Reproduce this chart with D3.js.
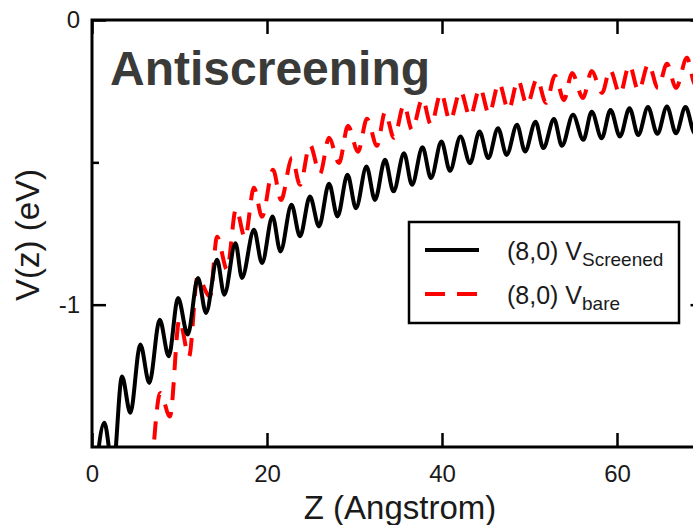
<!DOCTYPE html>
<html>
<head>
<meta charset="utf-8">
<script src="https://cdn.jsdelivr.net/npm/d3@7"></script>
<style>
  html, body { margin: 0; padding: 0; background: #fff; overflow: hidden; }
  text { font-family: "Liberation Sans", Arial, sans-serif; }
</style>
</head>
<body>
<div id="chart"></div>
<script>
// extrema (peaks / troughs) of each curve
const screenedZ = [0.46, 1.41, 2.40, 3.43, 4.38, 5.52, 6.55, 7.74, 8.77, 9.83, 10.94, 12.11, 13.03, 14.29, 15.12, 16.40, 17.14, 18.51, 19.43, 20.63, 21.54, 22.80, 23.77, 24.91, 25.94, 27.09, 28.06, 29.20, 30.17, 31.37, 32.34, 33.49, 34.46, 35.66, 36.57, 37.77, 38.74, 39.94, 40.91, 42.11, 43.20, 44.29, 45.29, 46.40, 47.39, 48.57, 49.49, 50.69, 51.58, 52.80, 53.71, 54.97, 56.15, 57.11, 58.25, 59.26, 60.34, 61.43, 62.43, 63.54, 64.61, 65.71, 66.74, 67.83, 68.90, 69.94];
const screenedV = [-1.58, -1.415, -1.58, -1.252, -1.380, -1.140, -1.275, -1.053, -1.181, -0.977, -1.105, -0.906, -1.029, -0.842, -0.965, -0.784, -0.906, -0.737, -0.854, -0.690, -0.813, -0.649, -0.760, -0.620, -0.725, -0.575, -0.690, -0.544, -0.661, -0.515, -0.632, -0.491, -0.602, -0.468, -0.579, -0.447, -0.555, -0.427, -0.530, -0.409, -0.503, -0.392, -0.485, -0.380, -0.474, -0.368, -0.462, -0.357, -0.450, -0.348, -0.442, -0.333, -0.421, -0.322, -0.415, -0.316, -0.409, -0.310, -0.404, -0.306, -0.400, -0.304, -0.398, -0.306, -0.398, -0.300];

const bareZ = [6.86, 7.81, 8.91, 9.98, 11.09, 12.06, 13.49, 14.29, 15.43, 16.46, 17.49, 18.51, 19.43, 20.69, 21.60, 22.86, 23.77, 24.91, 26.06, 27.09, 28.23, 29.26, 30.40, 31.43, 32.57, 33.49, 34.51, 35.66, 36.57, 37.77, 38.74, 39.89, 40.91, 42.11, 43.20, 44.34, 45.37, 46.51, 47.60, 48.69, 49.71, 50.86, 51.89, 52.91, 53.94, 54.86, 56.11, 57.11, 58.29, 59.20, 60.34, 61.41, 62.46, 63.60, 64.69, 65.71, 66.74, 68.00, 68.91, 70.0];
const bareV = [-1.579, -1.310, -1.393, -1.053, -1.182, -0.902, -0.972, -0.761, -0.877, -0.663, -0.765, -0.589, -0.691, -0.526, -0.632, -0.484, -0.579, -0.439, -0.540, -0.414, -0.502, -0.372, -0.463, -0.347, -0.442, -0.323, -0.414, -0.298, -0.386, -0.277, -0.368, -0.256, -0.354, -0.249, -0.340, -0.239, -0.330, -0.221, -0.316, -0.211, -0.298, -0.207, -0.291, -0.196, -0.281, -0.186, -0.274, -0.179, -0.256, -0.175, -0.260, -0.158, -0.249, -0.154, -0.239, -0.154, -0.239, -0.133, -0.225, -0.13];

const xTicks = [0, 20, 40, 60];
const yTicks = [0, -1];
const yMinorTicks = [-0.5];
const legendLabels = [["(8,0) V", "Screened"], ["(8,0) V", "bare"]];

const width = 693, height = 525;
const plotLeft = 92, plotTop = 20, plotBottom = 447;

const svg = d3.select('#chart').append('svg')
  .attr('width', width)
  .attr('height', height);

const x = d3.scaleLinear().domain([0, 70]).range([plotLeft, 704.5]);
const y = d3.scaleLinear().domain([-1.5, 0]).range([plotBottom, plotTop]);

svg.append('clipPath').attr('id', 'plot-clip')
  .append('rect')
  .attr('x', plotLeft).attr('y', plotTop)
  .attr('width', x(70) - plotLeft).attr('height', plotBottom - plotTop);

// title inside the plot
svg.append('text')
  .attr('x', 110)
  .attr('y', 85)
  .style('font-size', '48px')
  .style('font-weight', 'bold')
  .attr('fill', '#3a3a38')
  .text('Antiscreening');

const line = d3.line()
  .x(d => x(d[0]))
  .y(d => y(d[1]))
  .curve(d3.curveMonotoneX);

const plot = svg.append('g').attr('clip-path', 'url(#plot-clip)');

plot.append('path')
  .datum(bareZ.map((z, i) => [z, bareV[i]]))
  .attr('d', line)
  .attr('fill', 'none')
  .attr('stroke', '#ff0000')
  .attr('stroke-width', 4)
  .attr('stroke-dasharray', '18,12');

plot.append('path')
  .datum(screenedZ.map((z, i) => [z, screenedV[i]]))
  .attr('d', line)
  .attr('fill', 'none')
  .attr('stroke', '#000')
  .attr('stroke-width', 4);

// axes, ticks pointing inward
const fmt = d => d === 0 ? '0' : String(d);

svg.append('g')
  .attr('transform', `translate(0,${plotBottom})`)
  .call(d3.axisBottom(x).tickValues(xTicks).tickSizeInner(-14).tickSizeOuter(0).tickPadding(18).tickFormat(fmt));
svg.append('g')
  .attr('transform', `translate(0,${plotTop})`)
  .call(d3.axisTop(x).tickValues(xTicks).tickSizeInner(-14).tickSizeOuter(0).tickFormat(''));

svg.append('g')
  .attr('transform', `translate(${plotLeft},0)`)
  .call(d3.axisLeft(y).tickValues(yTicks).tickSizeInner(-14).tickSizeOuter(0).tickPadding(12).tickFormat(fmt));
svg.append('g')
  .attr('transform', `translate(${plotLeft},0)`)
  .call(d3.axisLeft(y).tickValues(yMinorTicks).tickSizeInner(-7).tickSizeOuter(0).tickFormat(''));
svg.append('g')
  .attr('transform', `translate(${x(70)},0)`)
  .call(d3.axisRight(y).tickValues(yTicks).tickSizeInner(-14).tickSizeOuter(0).tickFormat(''));
svg.append('g')
  .attr('transform', `translate(${x(70)},0)`)
  .call(d3.axisRight(y).tickValues(yMinorTicks).tickSizeInner(-7).tickSizeOuter(0).tickFormat(''));

svg.selectAll('.domain').remove();
svg.selectAll('.tick line').attr('stroke', '#000').attr('stroke-width', 2.5);
svg.selectAll('.tick text')
  .attr('fill', '#1a1a1a')
  .style('font-size', '24px')
  .style('font-family', '"Liberation Sans", Arial, sans-serif');

// frame
svg.append('rect')
  .attr('x', plotLeft).attr('y', plotTop)
  .attr('width', x(70) - plotLeft).attr('height', plotBottom - plotTop)
  .attr('fill', 'none')
  .attr('stroke', '#000')
  .attr('stroke-width', 3);

// axis titles
svg.append('text')
  .attr('x', 400)
  .attr('y', 519)
  .attr('text-anchor', 'middle')
  .style('font-size', '33px')
  .attr('fill', '#1a1a1a')
  .text('Z (Angstrom)');

svg.append('text')
  .attr('transform', 'translate(39,235) rotate(-90)')
  .attr('text-anchor', 'middle')
  .style('font-size', '33px')
  .attr('fill', '#1a1a1a')
  .text('V(z) (eV)');

// legend
const legend = svg.append('g');
legend.append('rect')
  .attr('x', 409).attr('y', 222)
  .attr('width', 270).attr('height', 101)
  .attr('fill', '#fff')
  .attr('stroke', '#000')
  .attr('stroke-width', 2.5);

const rowY = [250, 294];
const styles = [{ color: '#000', dash: null }, { color: '#ff0000', dash: '20,12' }];

legendLabels.forEach((lab, i) => {
  legend.append('line')
    .attr('x1', 425).attr('x2', 479)
    .attr('y1', rowY[i]).attr('y2', rowY[i])
    .attr('stroke', styles[i].color)
    .attr('stroke-width', 4)
    .attr('stroke-dasharray', styles[i].dash);

  const t = legend.append('text')
    .attr('x', 507)
    .attr('y', rowY[i] + 10)
    .attr('fill', '#1a1a1a')
    .style('font-size', '25px');
  t.append('tspan').text(lab[0]);
  t.append('tspan')
    .attr('dy', 6)
    .style('font-size', '19px')
    .text(lab[1]);
});
</script>
</body>
</html>
